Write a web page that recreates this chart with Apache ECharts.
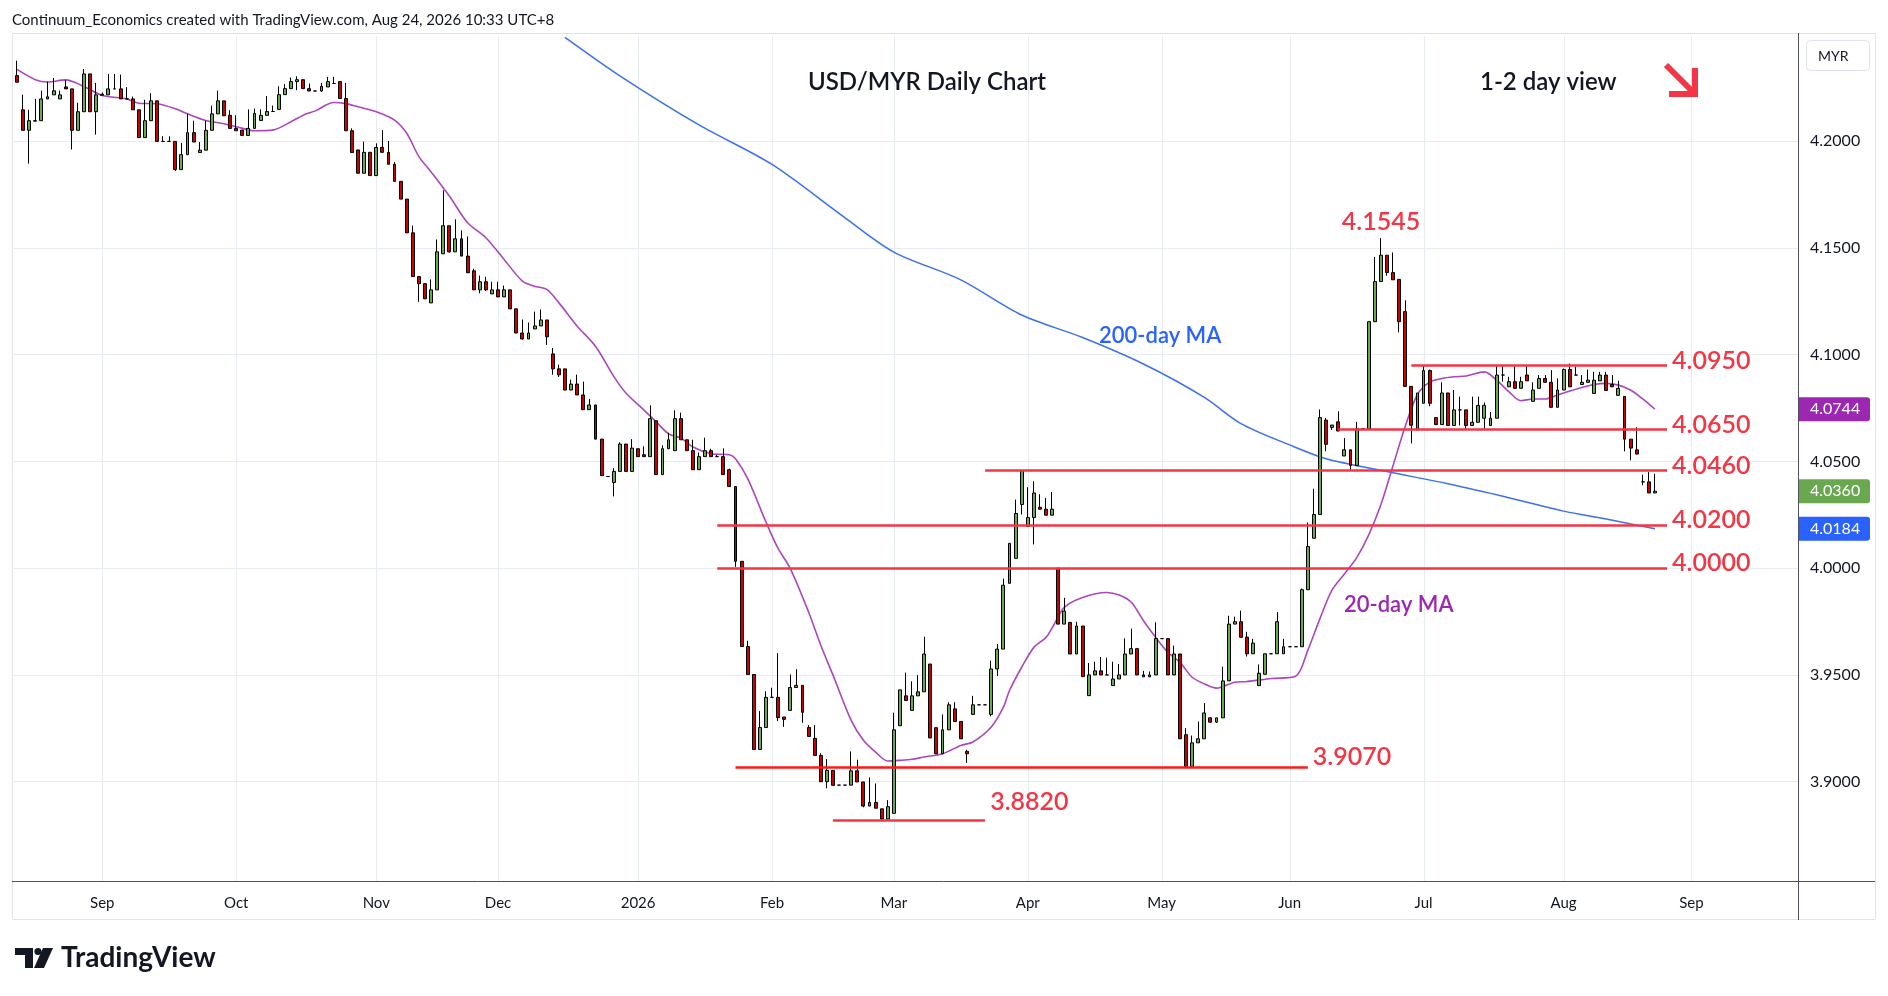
<!DOCTYPE html>
<html>
<head>
<meta charset="utf-8">
<script src="https://cdn.jsdelivr.net/npm/echarts@6/dist/echarts.min.js"></script>
<style>
html,body{margin:0;padding:0;background:#ffffff;}
#chart{width:1888px;height:996px;}
</style>
</head>
<body>
<div id="chart"></div>
<script>
// ---------------- DATA ----------------
const firstDate = '2025-08-12';   // first daily bar
const slotCount = 293;            // weekday slots shown on the axis (bars + empty right margin)

const opens = [
4.2306,4.2146,4.2050,4.2093,4.2095,4.2197,4.2216,4.2197,4.2253,4.2244,
4.2050,4.2137,4.2314,4.2137,4.2214,4.2216,4.2244,4.2244,4.2197,4.2197,
4.2146,4.2016,4.2095,4.2188,4.1998,4.1998,4.1998,4.1866,4.1936,4.2039,
4.1946,4.1957,4.2050,4.2127,4.2188,4.2120,4.2059,4.2051,4.2026,4.2059,
4.2096,4.2120,4.2138,4.2148,4.2217,4.2245,4.2278,4.2287,4.2245,4.2234,
4.2234,4.2253,4.2269,4.2278,4.2199,4.2048,4.1958,4.1849,4.1947,4.1838,
4.1970,4.1947,4.1891,4.1811,4.1728,4.1570,4.1365,4.1332,4.1242,4.1303,
4.1472,4.1603,4.1481,4.1542,4.1461,4.1392,4.1303,4.1341,4.1284,4.1303,
4.1270,4.1303,4.1214,4.1101,4.1073,4.1120,4.1134,4.1162,4.1003,4.0933,
4.0933,4.0834,4.0862,4.0811,4.0742,4.0764,4.0604,4.0429,4.0401,4.0453,
4.0581,4.0453,4.0559,4.0531,4.0522,4.0690,4.0438,4.0559,4.0550,4.0700,
4.0601,4.0550,4.0461,4.0522,4.0550,4.0522,4.0522,4.0461,4.0382,4.0032,
3.9633,3.9502,3.9151,3.9254,3.9395,3.9395,3.9303,3.9334,3.9441,3.9451,
3.9254,3.9203,3.9123,3.9000,3.9053,3.8984,3.8984,3.8984,3.9051,3.8999,
3.8886,3.8903,3.8873,3.8825,3.8852,3.9262,3.9402,3.9334,3.9402,3.9421,
3.9551,3.9253,3.9131,3.9243,3.9341,3.9282,3.9142,3.9315,3.9360,3.9360,
3.9315,3.9528,3.9621,3.9929,4.0046,4.0298,4.0195,4.0237,4.0285,4.0276,
4.0248,4.0000,3.9738,3.9746,3.9598,3.9729,3.9403,3.9500,3.9519,3.9500,
3.9450,3.9481,3.9500,3.9598,3.9623,3.9500,3.9491,3.9500,3.9670,3.9670,
3.9500,3.9598,3.9220,3.9072,3.9182,3.9201,3.9299,3.9279,3.9299,3.9472,
3.9738,3.9749,3.9677,3.9599,3.9450,3.9503,3.9599,3.9599,3.9599,3.9632,
3.9632,3.9632,3.9899,4.0140,4.0251,4.0693,4.0659,4.0685,4.0525,4.0554,
4.0481,4.0652,4.0652,4.1154,4.1342,4.1465,4.1384,4.1352,4.1201,4.0851,
4.0647,4.0772,4.0925,4.0705,4.0672,4.0820,4.0668,4.0741,4.0741,4.0668,
4.0683,4.0702,4.0668,4.0702,4.0904,4.0849,4.0873,4.0842,4.0904,4.0781,
4.0842,4.0888,4.0870,4.0753,4.0834,4.0930,4.0904,4.0860,4.0870,4.0818,
4.0877,4.0904,4.0860,4.0809,4.0804,4.0604,4.0554,4.0404,4.0404,4.0352
];
const closes = [
4.2275,4.2050,4.2095,4.2095,4.2197,4.2207,4.2235,4.2216,4.2244,4.2050,
4.2137,4.2314,4.2137,4.2216,4.2219,4.2244,4.2244,4.2197,4.2197,4.2146,
4.2016,4.2095,4.2188,4.1998,4.1998,4.1998,4.1866,4.1936,4.2039,4.1995,
4.1957,4.2050,4.2127,4.2188,4.2118,4.2059,4.2048,4.2026,4.2059,4.2129,
4.2120,4.2138,4.2138,4.2217,4.2245,4.2278,4.2287,4.2245,4.2234,4.2234,
4.2256,4.2278,4.2269,4.2199,4.2048,4.1946,4.1849,4.1947,4.1838,4.1970,
4.1947,4.1891,4.1811,4.1728,4.1570,4.1365,4.1332,4.1261,4.1303,4.1481,
4.1603,4.1481,4.1542,4.1461,4.1383,4.1303,4.1341,4.1303,4.1303,4.1270,
4.1303,4.1214,4.1101,4.1073,4.1101,4.1134,4.1162,4.1083,4.0933,4.0905,
4.0834,4.0862,4.0811,4.0742,4.0764,4.0604,4.0433,4.0429,4.0453,4.0581,
4.0453,4.0562,4.0522,4.0522,4.0700,4.0438,4.0559,4.0601,4.0700,4.0601,
4.0550,4.0461,4.0522,4.0550,4.0522,4.0522,4.0438,4.0382,4.0032,3.9633,
3.9502,3.9151,3.9254,3.9395,3.9395,3.9300,3.9292,3.9441,3.9451,3.9325,
3.9212,3.9123,3.9000,3.9053,3.8983,3.8984,3.8984,3.9051,3.8999,3.8886,
3.8903,3.8876,3.8825,3.8883,3.9243,3.9430,3.9380,3.9402,3.9421,3.9598,
3.9205,3.9131,3.9243,3.9360,3.9282,3.9201,3.9131,3.9360,3.9360,3.9360,
3.9528,3.9621,3.9920,4.0116,4.0256,4.0456,4.0237,4.0352,4.0276,4.0248,
4.0276,3.9738,3.9799,3.9598,3.9729,3.9492,3.9500,3.9519,3.9500,3.9500,
3.9481,3.9500,3.9598,3.9623,3.9500,3.9491,3.9500,3.9670,3.9670,3.9500,
3.9598,3.9201,3.9072,3.9182,3.9201,3.9322,3.9279,3.9299,3.9472,3.9738,
3.9749,3.9676,3.9599,3.9649,3.9508,3.9599,3.9599,3.9749,3.9632,3.9632,
3.9632,3.9899,4.0101,4.0251,4.0705,4.0580,4.0670,4.0642,4.0554,4.0481,
4.0652,4.0652,4.1154,4.1342,4.1465,4.1384,4.1350,4.1154,4.0851,4.0669,
4.0820,4.0925,4.0772,4.0672,4.0820,4.0668,4.0741,4.0741,4.0668,4.0683,
4.0762,4.0762,4.0702,4.0904,4.0904,4.0873,4.0842,4.0873,4.0877,4.0834,
4.0888,4.0870,4.0753,4.0834,4.0930,4.0849,4.0904,4.0870,4.0880,4.0880,
4.0904,4.0832,4.0849,4.0842,4.0604,4.0562,4.0534,4.0404,4.0352,4.0360
];
const highs = [
4.2376,4.2217,4.2146,4.2197,4.2236,4.2278,4.2295,4.2236,4.2286,4.2244,
4.2179,4.2337,4.2314,4.2272,4.2227,4.2314,4.2314,4.2311,4.2252,4.2208,
4.2146,4.2193,4.2224,4.2188,4.2022,4.2022,4.1998,4.1991,4.2127,4.2095,
4.1995,4.2095,4.2166,4.2236,4.2188,4.2144,4.2121,4.2051,4.2148,4.2152,
4.2148,4.2210,4.2166,4.2256,4.2266,4.2297,4.2303,4.2287,4.2269,4.2234,
4.2272,4.2300,4.2300,4.2278,4.2272,4.2059,4.1958,4.1997,4.1947,4.1989,
4.2051,4.2000,4.1901,4.1811,4.1728,4.1604,4.1365,4.1332,4.1352,4.1539,
4.1769,4.1603,4.1633,4.1581,4.1553,4.1402,4.1370,4.1364,4.1341,4.1341,
4.1323,4.1303,4.1214,4.1164,4.1150,4.1201,4.1211,4.1162,4.1031,4.0953,
4.0933,4.0883,4.0906,4.0873,4.0792,4.0764,4.0604,4.0429,4.0468,4.0589,
4.0581,4.0604,4.0559,4.0570,4.0762,4.0690,4.0575,4.0634,4.0739,4.0728,
4.0601,4.0601,4.0541,4.0611,4.0559,4.0531,4.0561,4.0466,4.0382,4.0032,
3.9660,3.9502,3.9331,3.9424,3.9440,3.9602,3.9303,3.9502,3.9527,3.9451,
3.9265,3.9265,3.9133,3.9106,3.9053,3.8984,3.8984,3.9142,3.9103,3.8999,
3.9020,3.8992,3.8873,3.8914,3.9323,3.9430,3.9511,3.9470,3.9500,3.9679,
3.9551,3.9253,3.9315,3.9372,3.9372,3.9282,3.9150,3.9402,3.9360,3.9360,
3.9567,3.9645,3.9951,4.0116,4.0321,4.0458,4.0379,4.0407,4.0346,4.0329,
4.0357,4.0000,3.9861,3.9746,3.9749,3.9729,3.9556,3.9562,3.9584,3.9581,
3.9562,3.9551,3.9671,3.9717,3.9623,3.9519,3.9516,3.9746,3.9670,3.9670,
3.9637,3.9598,3.9251,3.9216,3.9282,3.9368,3.9302,3.9299,3.9539,3.9777,
3.9773,3.9801,3.9702,3.9669,3.9549,3.9599,3.9599,3.9794,3.9669,3.9632,
3.9632,3.9904,4.0214,4.0372,4.0743,4.0703,4.0670,4.0735,4.0609,4.0554,
4.0685,4.0652,4.1154,4.1457,4.1545,4.1465,4.1478,4.1352,4.1254,4.0851,
4.0820,4.0950,4.0930,4.0705,4.0870,4.0821,4.0834,4.0803,4.0741,4.0803,
4.0803,4.0775,4.0731,4.0950,4.0950,4.0896,4.0950,4.0896,4.0950,4.0870,
4.0904,4.0904,4.0927,4.0888,4.0935,4.0958,4.0943,4.0904,4.0930,4.0919,
4.0919,4.0919,4.0904,4.0877,4.0804,4.0604,4.0660,4.0438,4.0450,4.0442
];
const lows = [
4.2275,4.2050,4.1894,4.2093,4.2095,4.2197,4.2216,4.2197,4.2244,4.1960,
4.2050,4.2137,4.2137,4.2030,4.2214,4.2216,4.2244,4.2197,4.2197,4.2146,
4.2016,4.2016,4.2095,4.1998,4.1998,4.1998,4.1860,4.1866,4.1936,4.1995,
4.1946,4.1957,4.2050,4.2127,4.2118,4.2059,4.2048,4.2026,4.2026,4.2059,
4.2096,4.2120,4.2138,4.2148,4.2217,4.2245,4.2238,4.2245,4.2234,4.2234,
4.2230,4.2253,4.2269,4.2199,4.2048,4.1946,4.1849,4.1849,4.1838,4.1838,
4.1947,4.1891,4.1811,4.1728,4.1570,4.1365,4.1247,4.1261,4.1242,4.1303,
4.1472,4.1477,4.1481,4.1461,4.1383,4.1303,4.1287,4.1297,4.1284,4.1270,
4.1270,4.1214,4.1101,4.1070,4.1073,4.1120,4.1134,4.1045,4.0906,4.0895,
4.0834,4.0834,4.0811,4.0742,4.0742,4.0604,4.0433,4.0429,4.0336,4.0453,
4.0453,4.0453,4.0522,4.0522,4.0522,4.0438,4.0438,4.0559,4.0550,4.0601,
4.0550,4.0461,4.0461,4.0522,4.0522,4.0522,4.0438,4.0382,4.0006,3.9633,
3.9502,3.9151,3.9151,3.9254,3.9395,3.9284,3.9257,3.9334,3.9441,3.9276,
3.9212,3.9123,3.9000,3.8969,3.8983,3.8984,3.8984,3.8984,3.8999,3.8880,
3.8886,3.8876,3.8825,3.8825,3.8852,3.9262,3.9380,3.9334,3.9402,3.9421,
3.9205,3.9131,3.9131,3.9243,3.9282,3.9201,3.9088,3.9315,3.9360,3.9360,
3.9306,3.9495,3.9621,3.9929,4.0046,4.0251,4.0195,4.0111,4.0276,4.0248,
4.0248,3.9738,3.9738,3.9598,3.9598,3.9492,3.9403,3.9500,3.9500,3.9500,
3.9450,3.9481,3.9500,3.9598,3.9500,3.9491,3.9491,3.9500,3.9670,3.9500,
3.9500,3.9201,3.9072,3.9072,3.9182,3.9201,3.9276,3.9276,3.9299,3.9472,
3.9738,3.9676,3.9586,3.9599,3.9450,3.9503,3.9599,3.9599,3.9599,3.9632,
3.9632,3.9632,3.9899,4.0140,4.0251,4.0547,4.0647,4.0642,4.0525,4.0456,
4.0481,4.0652,4.0652,4.1154,4.1342,4.1369,4.1350,4.1104,4.0851,4.0584,
4.0647,4.0772,4.0758,4.0672,4.0672,4.0668,4.0668,4.0668,4.0647,4.0668,
4.0683,4.0652,4.0668,4.0702,4.0873,4.0849,4.0842,4.0842,4.0877,4.0781,
4.0842,4.0870,4.0753,4.0753,4.0834,4.0849,4.0904,4.0860,4.0870,4.0818,
4.0877,4.0832,4.0849,4.0809,4.0547,4.0505,4.0534,4.0388,4.0352,4.0352
];

// 20-day moving average: [bar number, value]
const ma20Points = [
[1,4.2335],[4,4.2287],[6,4.2276],[9,4.2286],[12,4.2255],[15,4.2213],[19,4.2197],[21,4.2177],[24,4.2174],[27,4.2151],
[29,4.2127],[32,4.2096],[35,4.2081],[37,4.2067],[40,4.2048],[43,4.2051],[46,4.2090],[48,4.2121],[50,4.2141],[53,4.2180],
[55,4.2175],[57,4.2160],[60,4.2137],[63,4.2098],[65,4.2036],[67,4.1927],[69,4.1855],[72,4.1742],[75,4.1617],[78,4.1547],
[81,4.1445],[84,4.1344],[86,4.1320],[88,4.1305],[90,4.1242],[93,4.1133],[96,4.1039],[99,4.0898],[101,4.0820],[104,4.0739],
[106,4.0684],[108,4.0629],[110,4.0609],[112,4.0567],[115,4.0536],[118,4.0531],[119,4.0512],[121,4.0419],[124,4.0216],[126,4.0092],
[128,3.9998],[131,3.9795],[133,3.9639],[135,3.9500],[138,3.9287],[140,3.9194],[142,3.9139],[144,3.9097],[146,3.9100],[148,3.9105],
[150,3.9116],[153,3.9131],[156,3.9170],[158,3.9186],[161,3.9256],[163,3.9349],[164,3.9427],[166,3.9536],[168,3.9629],[170,3.9676],
[171,3.9720],[173,3.9816],[176,3.9863],[180,3.9886],[182,3.9874],[184,3.9840],[186,3.9754],[188,3.9676],[190,3.9606],[192,3.9559],
[194,3.9489],[196,3.9458],[198,3.9438],[201,3.9466],[203,3.9469],[207,3.9483],[211,3.9494],[213,3.9616],[215,3.9765],[217,3.9899],
[219,3.9973],[221,4.0048],[223,4.0156],[225,4.0298],[227,4.0481],[229,4.0664],[231,4.0813],[233,4.0871],[235,4.0888],[237,4.0896],
[239,4.0900],[242,4.0919],[244,4.0880],[246,4.0826],[248,4.0784],[250,4.0792],[252,4.0792],[254,4.0811],[256,4.0829],[258,4.0846],
[260,4.0860],[262,4.0865],[264,4.0857],[266,4.0834],[268,4.0792],[270,4.0744]
];
// 200-day moving average: [bar number, value]
const ma200Points = [
[91,4.2485],[100,4.2305],[113,4.2075],[125,4.1890],[137,4.1640],[145,4.1480],[156,4.1350],[166,4.1185],[176,4.1080],[186,4.0956],
[196,4.0800],[202,4.0677],[210,4.0577],[216,4.0512],[226,4.0452],[236,4.0395],[246,4.0330],[255,4.0267],[262,4.0230],[270,4.0184]
];

// support / resistance levels and the bars each line spans
const levelValues = [4.0950, 4.0650, 4.0460, 4.0200, 4.0000, 3.9070, 3.8820];
const levelLabels = ['4.0950','4.0650','4.0460','4.0200','4.0000','3.9070','3.8820'];
const levelStartBars = [230, 218, 160, 116, 116, 119, 135];
const levelEndBars   = [272, 272, 272, 272, 272, 213, 160];
const highValue = 4.1545, highLabel = '4.1545', highBar = 225;

// right-axis price tags
const tagValues = [4.0744, 4.0360, 4.0184];
const tagLabels = ['4.0744', '4.0360', '4.0184'];

// ---------------- BUILD ----------------
const FONT = "'Trebuchet MS', Lato, 'Noto Sans', sans-serif";
const MONTHS = ['Jan','Feb','Mar','Apr','May','Jun','Jul','Aug','Sep','Oct','Nov','Dec'];

function buildWeekdays(start, n) {
  const out = [];
  const d = new Date(start + 'T00:00:00Z');
  while (out.length < n) {
    const w = d.getUTCDay();
    if (w !== 0 && w !== 6) out.push(d.toISOString().slice(0, 10));
    d.setUTCDate(d.getUTCDate() + 1);
  }
  return out;
}
const dates = buildWeekdays(firstDate, slotCount);
const isMonthStart = dates.map((d, i) => i > 0 && d.slice(5, 7) !== dates[i - 1].slice(5, 7));
function monthLabel(d) { const m = +d.slice(5, 7); return m === 1 ? d.slice(0, 4) : MONTHS[m - 1]; }

const candles = opens.map((o, i) => [o, closes[i], lows[i], highs[i]]);
const ma20Data = ma20Points.map(p => [dates[p[0] - 1], p[1]]);
const ma200Data = ma200Points.map(p => [dates[p[0] - 1], p[1]]);

const RED = '#f23645';
const levelColors = [RED, RED, RED, RED, RED, '#ff1a1a', RED];
const markLines = levelValues.map((v, i) => [
  { coord: [dates[levelStartBars[i] - 1], v], lineStyle: { color: levelColors[i], width: 2.5, type: 'solid' } },
  { coord: [dates[levelEndBars[i] - 1], v] }
]);

const GRIDC = '#e6ecf2';
const T = 'rgba(0,0,0,0)';

const chart = echarts.init(document.getElementById('chart'), null, { renderer: 'canvas' });
const option = {
  animation: false,
  backgroundColor: '#ffffff',
  grid: { left: 14, right: 90, top: 34.2, bottom: 107.5, show: false },
  xAxis: {
    type: 'category', data: dates, boundaryGap: true,
    axisLine: { show: false }, axisTick: { show: false }, splitLine: { show: false },
    axisLabel: {
      interval: (i) => isMonthStart[i],
      formatter: (v) => monthLabel(v),
      color: '#131722', fontSize: 15, fontFamily: FONT, margin: 7
    }
  },
  yAxis: {
    type: 'value', position: 'right', min: 3.85, max: 4.25, interval: 0.05,
    axisLine: { show: false }, axisTick: { show: false },
    axisLabel: {
      formatter: (v) => v.toFixed(4), color: '#131722', fontSize: 16, fontFamily: FONT,
      margin: 12, showMinLabel: false, showMaxLabel: false
    },
    splitLine: { lineStyle: { color: [T, GRIDC, GRIDC, GRIDC, GRIDC, GRIDC, GRIDC, GRIDC, T], width: 1 } }
  },
  series: [
    {
      type: 'line', name: 'MA200', data: ma200Data, showSymbol: false, smooth: 0.3,
      lineStyle: { color: '#3d6ff5', width: 1.5 }, z: 2, silent: true
    },
    {
      type: 'line', name: 'MA20', data: ma20Data, showSymbol: false, smooth: 0.3,
      lineStyle: { color: '#ab47bc', width: 1.6 }, z: 2, silent: true
    },
    {
      type: 'candlestick', name: 'USD/MYR', data: candles, barWidth: 3.4, z: 3,
      itemStyle: { color: '#6aa84f', color0: '#cc0000', borderColor: '#000000', borderColor0: '#000000', borderWidth: 1 },
      markLine: { silent: true, symbol: ['none', 'none'], label: { show: false }, animation: false, data: markLines }
    }
  ]
};
chart.setOption(option);

// ---------------- DECORATIONS ----------------
const toPx = (bar, v) => chart.convertToPixel({ gridIndex: 0 }, [bar - 1, v]);
const els = [];
const PLOT_TOP = 36, AXIS_Y = 881, BOTTOM = 920, LEFT = 12, PRICE_X = 1798.5, RIGHT = 1875;

// vertical month grid lines
isMonthStart.forEach((f, i) => {
  if (!f) return;
  const x = Math.round(toPx(i + 1, 4)[0]) + 0.5;
  els.push({ type: 'line', silent: true, z: 0, shape: { x1: x, y1: PLOT_TOP, x2: x, y2: AXIS_Y }, style: { stroke: GRIDC, lineWidth: 1 } });
});
// frame
els.push({ type: 'rect', silent: true, z: 1, shape: { x: LEFT + 0.5, y: PLOT_TOP - 2.5, width: RIGHT - LEFT, height: BOTTOM - PLOT_TOP + 2 }, style: { fill: null, stroke: '#e0e3eb', lineWidth: 1 } });
els.push({ type: 'line', silent: true, z: 5, shape: { x1: LEFT, y1: AXIS_Y + 0.5, x2: RIGHT, y2: AXIS_Y + 0.5 }, style: { stroke: '#50535e', lineWidth: 1 } });
els.push({ type: 'line', silent: true, z: 5, shape: { x1: PRICE_X, y1: PLOT_TOP - 3, x2: PRICE_X, y2: BOTTOM }, style: { stroke: '#50535e', lineWidth: 1 } });

// level labels
const labelDy = [-4, -4, -4, -5, -5, -10, -18];
levelValues.forEach((v, i) => {
  const p = toPx(levelEndBars[i], v);
  els.push({ type: 'text', silent: true, z: 50, x: p[0] + 5, y: p[1] + labelDy[i],
    style: { text: levelLabels[i], fill: RED, fontSize: 25, fontWeight: 600, fontFamily: FONT, align: 'left', verticalAlign: 'middle' } });
});
const hp = toPx(highBar, highValue);
els.push({ type: 'text', silent: true, z: 50, x: hp[0], y: hp[1] - 16,
  style: { text: highLabel, fill: RED, fontSize: 25, fontWeight: 600, fontFamily: FONT, align: 'center', verticalAlign: 'middle' } });

// MA labels
els.push({ type: 'text', silent: true, z: 50, x: 1099, y: 336,
  style: { text: '200-day MA', fill: '#2962ff', fontSize: 22, fontWeight: 600, fontFamily: FONT, align: 'left', verticalAlign: 'middle' } });
els.push({ type: 'text', silent: true, z: 50, x: 1344, y: 605,
  style: { text: '20-day MA', fill: '#9c27b0', fontSize: 22, fontWeight: 600, fontFamily: FONT, align: 'left', verticalAlign: 'middle' } });

// titles
els.push({ type: 'text', silent: true, z: 50, x: 12, y: 20,
  style: { text: 'Continuum_Economics created with TradingView.com, Aug 24, 2026 10:33 UTC+8', fill: '#131722', fontSize: 15, fontFamily: FONT, align: 'left', verticalAlign: 'middle' } });
els.push({ type: 'text', silent: true, z: 50, x: 927, y: 82,
  style: { text: 'USD/MYR Daily Chart', fill: '#131722', fontSize: 24, fontWeight: 600, fontFamily: FONT, align: 'center', verticalAlign: 'middle' } });
els.push({ type: 'text', silent: true, z: 50, x: 1480, y: 82,
  style: { text: '1-2 day view', fill: '#131722', fontSize: 24, fontWeight: 600, fontFamily: FONT, align: 'left', verticalAlign: 'middle' } });
// red down arrow
els.push({ type: 'polyline', silent: true, z: 50, shape: { points: [[1666, 65], [1692, 91]] }, style: { stroke: RED, lineWidth: 6, fill: null } });
els.push({ type: 'polyline', silent: true, z: 50, shape: { points: [[1695, 68], [1695, 94], [1669, 94]] }, style: { stroke: RED, lineWidth: 6, fill: null, lineJoin: 'miter' } });

// MYR box
els.push({ type: 'rect', silent: true, z: 50, shape: { x: 1806.5, y: 40.5, width: 63, height: 30, r: 4 }, style: { fill: '#ffffff', stroke: '#e0e3eb', lineWidth: 1 } });
els.push({ type: 'text', silent: true, z: 51, x: 1818, y: 56, style: { text: 'MYR', fill: '#131722', fontSize: 14, fontFamily: FONT, align: 'left', verticalAlign: 'middle' } });

// price tags on the right axis
const tagColors = ['#9c27b0', '#6aa84f', '#2962ff'];
tagValues.forEach((v, i) => {
  const y = toPx(1, v)[1];
  els.push({ type: 'rect', silent: true, z: 50, shape: { x: 1799, y: y - 12, width: 71, height: 24, r: [0, 3, 3, 0] }, style: { fill: tagColors[i] } });
  els.push({ type: 'text', silent: true, z: 51, x: 1810, y: y, style: { text: tagLabels[i], fill: '#ffffff', fontSize: 16, fontFamily: FONT, align: 'left', verticalAlign: 'middle' } });
});

// TradingView logo
els.push({ type: 'rect', silent: true, z: 50, shape: { x: 15, y: 948, width: 18, height: 7 }, style: { fill: '#131722' } });
els.push({ type: 'rect', silent: true, z: 50, shape: { x: 25, y: 948, width: 8, height: 20 }, style: { fill: '#131722' } });
els.push({ type: 'circle', silent: true, z: 50, shape: { cx: 38, cy: 951.5, r: 3.6 }, style: { fill: '#131722' } });
els.push({ type: 'polygon', silent: true, z: 50, shape: { points: [[43, 948], [53, 948], [44, 968], [34, 968]] }, style: { fill: '#131722' } });
els.push({ type: 'text', silent: true, z: 50, x: 61, y: 958,
  style: { text: 'TradingView', fill: '#131722', fontSize: 28, fontWeight: 'bold', fontFamily: FONT, align: 'left', verticalAlign: 'middle' } });

chart.setOption({ graphic: { elements: els } });
</script>
</body>
</html>
